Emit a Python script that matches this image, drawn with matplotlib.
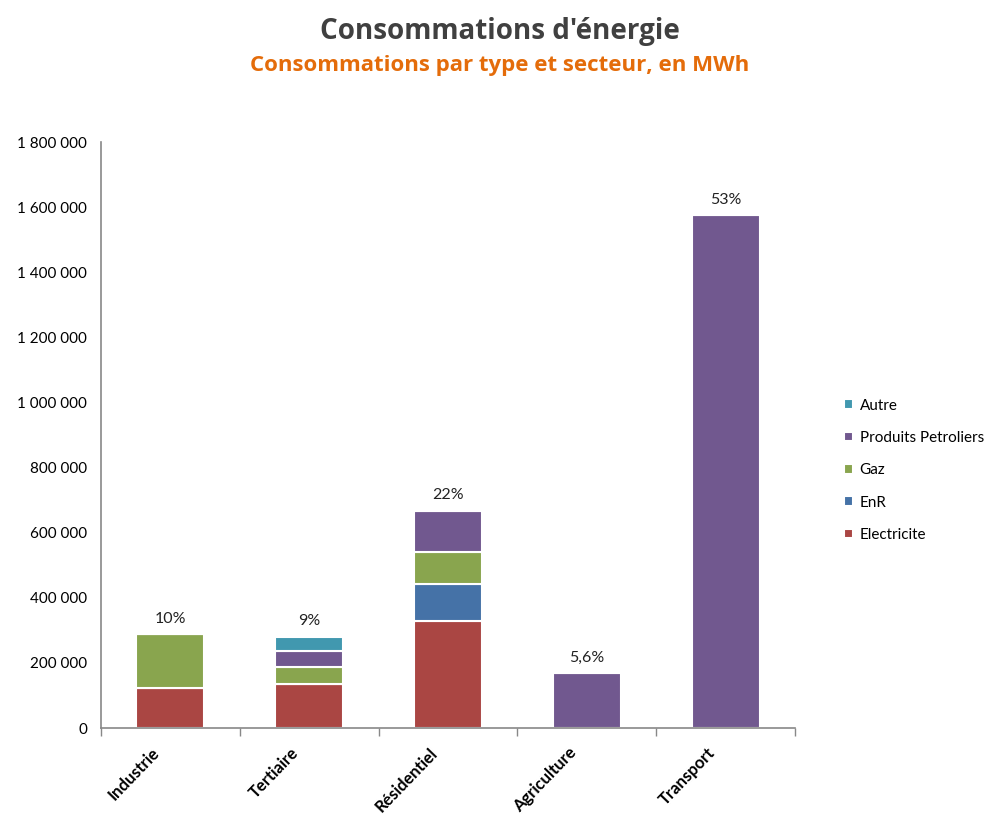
import matplotlib.pyplot as plt
import matplotlib.transforms as mtransforms
import numpy as np

# Data
secteurs = ['Industrie', 'Tertiaire', 'Résidentiel', 'Agriculture', 'Transport']
electricite = [123000, 135000, 329000, 0, 0]
enr = [0, 0, 114000, 0, 0]
gaz = [166000, 52000, 98000, 0, 0]
produits_petroliers = [0, 50000, 126000, 169000, 1575000]
autre = [0, 43000, 0, 0, 0]
parts = ['10%', '9%', '22%', '5,6%', '53%']

series = [
    ('Electricite', electricite, '#AA4643'),
    ('EnR', enr, '#4572A7'),
    ('Gaz', gaz, '#89A54E'),
    ('Produits Petroliers', produits_petroliers, '#71588F'),
    ('Autre', autre, '#4198AF'),
]

plt.rcParams['font.family'] = ['Lato', 'DejaVu Sans']

fig = plt.figure(figsize=(9.99, 8.19), dpi=100)
ax = fig.add_axes([0.101, 0.111, 0.695, 0.7156])

x = np.arange(len(secteurs))
bottom = np.zeros(len(secteurs))
handles = []
for name, vals, color in series:
    vals = np.array(vals, dtype=float)
    b = ax.bar(x, vals, width=0.49, bottom=bottom, color=color,
               edgecolor='white', linewidth=1.5, label=name)
    handles.append(b)
    bottom += vals

# percentage labels
for xi, tot, p in zip(x, bottom, parts):
    ax.text(xi, tot + 26000, p, ha='center', va='bottom', fontsize=11.5, color='#222222')

ax.set_xlim(-0.5, 4.5)
ax.set_ylim(0, 1800000)
yt = np.arange(0, 1800001, 200000)
ax.set_yticks(yt)
ax.set_yticklabels(['{:,}'.format(v).replace(',', ' ') for v in yt], fontsize=11)
ax.tick_params(axis='y', length=0, pad=10)

ax.set_xticks(x)
ax.set_xticklabels(secteurs, rotation=46, ha='right', va='top',
                   rotation_mode='anchor', fontsize=12, fontweight='bold')
ax.tick_params(axis='x', which='major', length=0, pad=12)
shift = mtransforms.ScaledTranslation(-19 / 100, 0, fig.dpi_scale_trans)
for lbl in ax.get_xticklabels():
    lbl.set_transform(lbl.get_transform() + shift)
ax.set_xticks(np.arange(-0.5, 4.6, 1), minor=True)
ax.tick_params(axis='x', which='minor', length=6, color='#888888', width=1)

for s in ['top', 'right']:
    ax.spines[s].set_visible(False)
for s in ['left', 'bottom']:
    ax.spines[s].set_color('#888888')
    ax.spines[s].set_linewidth(1.2)

# legend, top entry first
leg = ax.legend(handles[::-1], [s[0] for s in series][::-1],
                loc='center left', bbox_to_anchor=(1.05, 0.44),
                frameon=False, fontsize=11, handlelength=0.6, handleheight=0.6,
                handletextpad=0.45, labelspacing=1.2)

fig.text(0.5, 0.962, "Consommations d'énergie", ha='center', va='center',
         fontsize=20, fontweight='bold', color='#404040', family='Open Sans')
fig.text(0.5, 0.92, 'Consommations par type et secteur, en MWh', ha='center', va='center',
         fontsize=16, fontweight='bold', color='#E46C0A', family='Open Sans')

fig.savefig('out.png', dpi=100)
